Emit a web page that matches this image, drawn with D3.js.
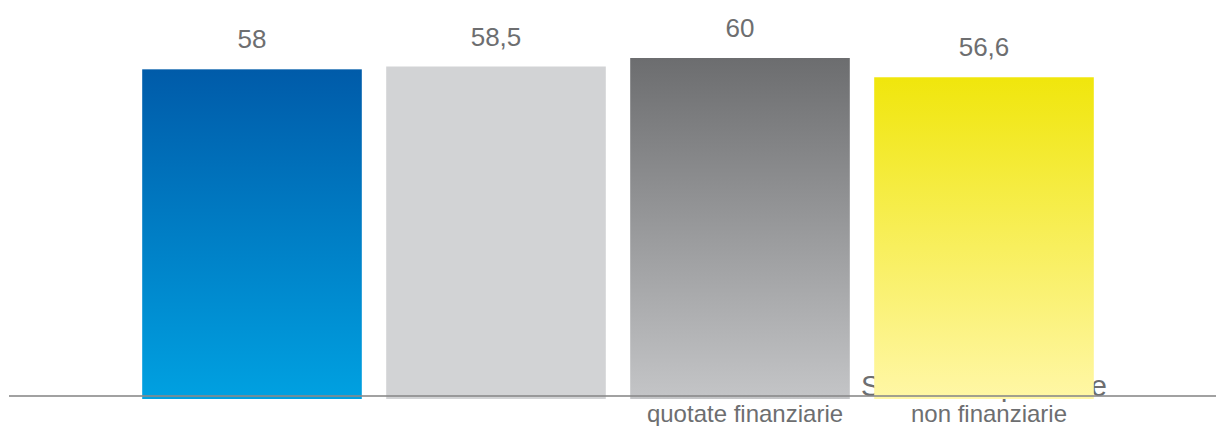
<!DOCTYPE html>
<html>
<head>
<meta charset="utf-8">
<script src="https://cdn.jsdelivr.net/npm/d3@7"></script>
<style>
    body { margin: 0; background: #fff; }
    text { font-family: 'Liberation Sans', Arial, sans-serif; fill: #6d6e70; }
</style>
</head>
<body>
<div id="chart"></div>
<script>
'use strict';

// Data
const categories = ['c1', 'c2', 'finanziarie', 'nonFinanziarie'];
const values = [58, 58.5, 60, 56.6];
const valueLabels = ['58', '58,5', '60', '56,6'];
// category label lines (first line sits behind the bar in the original)
const labelTop = ['', '', 'Società', 'Società quotate'];
const labelBottom = ['', '', 'quotate finanziarie', 'non finanziarie'];

// Styles (top colour, bottom colour)
const barColors = [
    ['#005ba9', '#00a1e1'],
    ['#d2d3d5', '#d2d3d5'],
    ['#6c6d6f', '#c4c5c7'],
    ['#f0e60c', '#fff7a6']
];

class BarChart {

    svgW = 1216;
    svgH = 426;
    baseY = 398;

    xScale = d3.scaleBand()
        .range([130, 1106])
        .paddingInner(0.1)
        .paddingOuter(0.05);
    yScale = d3.scaleLinear()
        .domain([0, 60])
        .range([398, 58]);

    constructor(_target) {
        this.target = _target;
        this.init();
    }

    init() {
        const vis = this;
        vis.svg = d3.select(`#${vis.target}`)
            .append('svg')
            .attr('width', vis.svgW)
            .attr('height', vis.svgH);

        vis.xScale.domain(categories);

        // Gradients
        const defs = vis.svg.append('defs');
        barColors.forEach((c, i) => {
            const grad = defs.append('linearGradient')
                .attr('id', `grad${i}`)
                .attr('x1', 0).attr('y1', 0)
                .attr('x2', 0).attr('y2', 1);
            grad.append('stop').attr('offset', '0%').attr('stop-color', c[0]);
            grad.append('stop').attr('offset', '100%').attr('stop-color', c[1]);
        });

        vis.render();
    }

    render() {
        const vis = this;
        const x = vis.xScale;
        const y = vis.yScale;
        const bw = x.bandwidth();

        // Category labels, first line gets hidden by the bars
        vis.svg.append('g')
            .selectAll('text')
            .data(categories)
            .join('text')
            .attr('x', d => x(d) + bw / 2)
            .attr('y', 396)
            .attr('text-anchor', 'middle')
            .style('font-size', '29px')
            .attr('textLength', (d, i) => labelTop[i] === 'Società quotate' ? 246 : null)
            .attr('lengthAdjust', 'spacing')
            .text((d, i) => labelTop[i]);

        vis.svg.append('g')
            .selectAll('text')
            .data(categories)
            .join('text')
            .attr('x', d => x(d) + bw / 2 + 5)
            .attr('y', 422)
            .attr('text-anchor', 'middle')
            .style('font-size', '24px')
            .text((d, i) => labelBottom[i]);

        // Bars
        vis.svg.append('g')
            .selectAll('rect')
            .data(values)
            .join('rect')
            .attr('x', (d, i) => x(categories[i]))
            .attr('y', d => y(d))
            .attr('width', bw)
            .attr('height', d => y(0) - y(d) + 1)
            .attr('fill', (d, i) => `url(#grad${i})`);

        // Baseline
        vis.svg.append('line')
            .attr('x1', 9)
            .attr('x2', vis.svgW)
            .attr('y1', 396)
            .attr('y2', 396)
            .attr('stroke', '#8a8a8a')
            .attr('stroke-opacity', 0.8)
            .attr('stroke-width', 2);

        // Value labels
        vis.svg.append('g')
            .selectAll('text')
            .data(values)
            .join('text')
            .attr('x', (d, i) => x(categories[i]) + bw / 2)
            .attr('y', d => y(d) - 21)
            .attr('text-anchor', 'middle')
            .style('font-size', '26px')
            .text((d, i) => valueLabels[i]);
    }
}

new BarChart('chart');
</script>
</body>
</html>
